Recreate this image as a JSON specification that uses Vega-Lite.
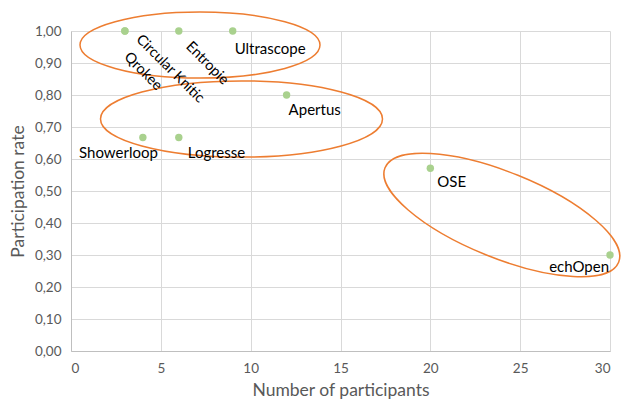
{
  "$schema": "https://vega.github.io/schema/vega-lite/v6.json",
  "width": 539,
  "height": 320,
  "autosize": {"type": "none"},
  "padding": {"left": 71, "top": 31, "right": 13, "bottom": 52},
  "background": "white",
  "config": {
    "view": {"stroke": null},
    "font": "Lato",
    "axis": {
      "gridColor": "#D9D9D9",
      "gridWidth": 1,
      "domainColor": "#BFBFBF",
      "ticks": false,
      "labelColor": "#595959",
      "labelFont": "Lato",
      "labelFontSize": 13.5,
      "titleColor": "#595959",
      "titleFont": "Lato",
      "titleFontSize": 17.5,
      "titleFontWeight": "normal"
    }
  },
  "datasets": {
    "projects": [
      {"name": "Circular Knitic", "participants": 3, "rate": 1.0},
      {"name": "Qrokee", "participants": 3, "rate": 1.0},
      {"name": "Entropie", "participants": 6, "rate": 1.0},
      {"name": "Ultrascope", "participants": 9, "rate": 1.0},
      {"name": "Apertus", "participants": 12, "rate": 0.8},
      {"name": "Showerloop", "participants": 4, "rate": 0.667},
      {"name": "Logresse", "participants": 6, "rate": 0.667},
      {"name": "OSE", "participants": 20, "rate": 0.571},
      {"name": "echOpen", "participants": 30, "rate": 0.3}
    ],
    "clusters": [
      {"cluster": "top", "participants": 7.18, "rate": 0.956},
      {"cluster": "middle", "participants": 9.49, "rate": 0.725},
      {"cluster": "right", "participants": 23.98, "rate": 0.425}
    ]
  },
  "encoding": {
    "x": {
      "field": "participants",
      "type": "quantitative",
      "scale": {"domain": [0, 30], "nice": false},
      "axis": {"values": [0, 5, 10, 15, 20, 25, 30], "title": "Number of participants", "labelPadding": 10, "titlePadding": 7, "domain": true}
    },
    "y": {
      "field": "rate",
      "type": "quantitative",
      "scale": {"domain": [0, 1], "nice": false},
      "axis": {
        "values": [0, 0.1, 0.2, 0.3, 0.4, 0.5, 0.6, 0.7, 0.8, 0.9, 1.0],
        "title": "Participation rate",
        "labelPadding": 10,
        "titlePadding": 7,
        "labelExpr": "replace(format(datum.value, '.2f'), '.', ',')"
      }
    }
  },
  "layer": [
    {
      "data": {"name": "clusters"},
      "transform": [{"filter": "datum.cluster === 'top'"}],
      "mark": {"type": "point", "filled": false, "stroke": "#ED7D31", "strokeWidth": 1.5, "size": 57600, "shape": "M1,0 C1,0.152 0.552,0.275 0,0.275 C-0.552,0.275 -1,0.152 -1,0 C-1,-0.152 -0.552,-0.275 0,-0.275 C0.552,-0.275 1,-0.152 1,0 Z", "opacity": 1}
    },
    {
      "data": {"name": "clusters"},
      "transform": [{"filter": "datum.cluster === 'middle'"}],
      "mark": {"type": "point", "filled": false, "stroke": "#ED7D31", "strokeWidth": 1.5, "size": 79524, "shape": "M1,0 C1,0.149 0.552,0.27 0,0.27 C-0.552,0.27 -1,0.149 -1,0 C-1,-0.149 -0.552,-0.27 0,-0.27 C0.552,-0.27 1,-0.149 1,0 Z", "opacity": 1}
    },
    {
      "data": {"name": "clusters"},
      "transform": [{"filter": "datum.cluster === 'right'"}],
      "mark": {"type": "point", "filled": false, "stroke": "#ED7D31", "strokeWidth": 1.5, "size": 63504, "angle": 22, "shape": "M1,0 C1,0.188 0.552,0.34 0,0.34 C-0.552,0.34 -1,0.188 -1,0 C-1,-0.188 -0.552,-0.34 0,-0.34 C0.552,-0.34 1,-0.188 1,0 Z", "opacity": 1}
    },
    {
      "data": {"name": "projects"},
      "mark": {"type": "circle", "color": "#A9D18E", "size": 55, "opacity": 1}
    },
    {
      "data": {"name": "projects"},
      "transform": [{"filter": "datum.name === 'Circular Knitic'"}],
      "mark": {"type": "text", "angle": 45, "align": "left", "baseline": "middle", "dx": 14, "dy": -5, "fontSize": 14.5, "color": "#000000"},
      "encoding": {"text": {"field": "name"}}
    },
    {
      "data": {"name": "projects"},
      "transform": [{"filter": "datum.name === 'Entropie'"}],
      "mark": {"type": "text", "angle": 45, "align": "left", "baseline": "middle", "dx": 16, "dy": 3, "fontSize": 14.5, "color": "#000000"},
      "encoding": {"text": {"field": "name"}}
    },
    {
      "data": {"name": "projects"},
      "transform": [{"filter": "datum.name === 'Qrokee'"}],
      "mark": {"type": "text", "angle": 45, "align": "left", "baseline": "middle", "dx": 18, "dy": 16, "fontSize": 14.5, "color": "#000000"},
      "encoding": {"text": {"field": "name"}}
    },
    {
      "data": {"name": "projects"},
      "transform": [{"filter": "datum.name === 'Ultrascope'"}],
      "mark": {"type": "text", "align": "left", "baseline": "middle", "dx": 2, "dy": 18, "fontSize": 15, "color": "#000000"},
      "encoding": {"text": {"field": "name"}}
    },
    {
      "data": {"name": "projects"},
      "transform": [{"filter": "datum.name === 'Apertus'"}],
      "mark": {"type": "text", "align": "left", "baseline": "middle", "dx": 2, "dy": 15, "fontSize": 15, "color": "#000000"},
      "encoding": {"text": {"field": "name"}}
    },
    {
      "data": {"name": "projects"},
      "transform": [{"filter": "datum.name === 'Logresse'"}],
      "mark": {"type": "text", "align": "left", "baseline": "middle", "dx": 9, "dy": 15, "fontSize": 15, "color": "#000000"},
      "encoding": {"text": {"field": "name"}}
    },
    {
      "data": {"name": "projects"},
      "transform": [{"filter": "datum.name === 'OSE'"}],
      "mark": {"type": "text", "align": "left", "baseline": "middle", "dx": 7, "dy": 14, "fontSize": 15, "color": "#000000"},
      "encoding": {"text": {"field": "name"}}
    },
    {
      "data": {"name": "projects"},
      "transform": [{"filter": "datum.name === 'Showerloop'"}],
      "mark": {"type": "text", "align": "right", "baseline": "middle", "dx": 15, "dy": 15, "fontSize": 15, "color": "#000000"},
      "encoding": {"text": {"field": "name"}}
    },
    {
      "data": {"name": "projects"},
      "transform": [{"filter": "datum.name === 'echOpen'"}],
      "mark": {"type": "text", "align": "right", "baseline": "middle", "dx": -1, "dy": 12, "fontSize": 15, "color": "#000000"},
      "encoding": {"text": {"field": "name"}}
    }
  ]
}
